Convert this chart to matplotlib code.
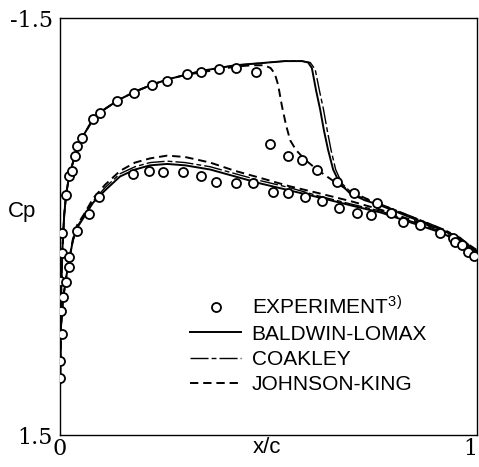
import matplotlib
matplotlib.use('Agg')
import matplotlib.pyplot as plt
from matplotlib.lines import Line2D

# Experiment (upper surface, then lower surface)
exp_x_up = [0.000, 0.000, 0.005, 0.002, 0.007, 0.000, 0.005, 0.005, 0.014, 0.022,
            0.029, 0.036, 0.041, 0.053, 0.079, 0.096, 0.137, 0.177, 0.221, 0.257,
            0.305, 0.338, 0.381, 0.422, 0.470, 0.504, 0.547, 0.580, 0.616, 0.664,
            0.705, 0.760, 0.794, 0.823, 0.863, 0.911, 0.942, 0.978]
exp_cp_up = [1.09, 0.97, 0.77, 0.61, 0.51, 0.39, 0.19, 0.05, -0.23, -0.36,
             -0.40, -0.51, -0.58, -0.64, -0.77, -0.82, -0.90, -0.96, -1.02, -1.05,
             -1.10, -1.11, -1.13, -1.14, -1.11, -0.59, -0.51, -0.48, -0.41, -0.32,
             -0.24, -0.17, -0.10, -0.03, -0.01, 0.05, 0.08, 0.18]
exp_x_lo = [0.014, 0.022, 0.022, 0.041, 0.070, 0.094, 0.175, 0.213, 0.247, 0.295,
            0.338, 0.374, 0.422, 0.463, 0.511, 0.547, 0.588, 0.628, 0.669, 0.712,
            0.746, 0.947, 0.964, 0.993]
exp_cp_lo = [0.40, 0.29, 0.22, 0.03, -0.09, -0.21, -0.38, -0.40, -0.39, -0.39,
             -0.36, -0.32, -0.31, -0.31, -0.25, -0.24, -0.21, -0.18, -0.13, -0.10,
             -0.08, 0.11, 0.13, 0.21]

# Baldwin-Lomax
bl_x_up = [0.0, 0.001, 0.003, 0.006, 0.010, 0.015, 0.022, 0.030, 0.040, 0.055,
           0.075, 0.10, 0.14, 0.18, 0.22, 0.26, 0.30, 0.34, 0.38, 0.42,
           0.46, 0.50, 0.54, 0.58, 0.595, 0.604, 0.614, 0.624, 0.633, 0.643,
           0.655, 0.671, 0.695, 0.73, 0.77, 0.82, 0.87, 0.92, 0.96, 1.0]
bl_cp_up = [1.17, 0.80, 0.45, 0.15, -0.08, -0.24, -0.36, -0.45, -0.55, -0.65,
            -0.75, -0.83, -0.91, -0.97, -1.02, -1.06, -1.09, -1.12, -1.14, -1.16,
            -1.17, -1.18, -1.19, -1.19, -1.18, -1.14, -0.98, -0.84, -0.69, -0.55,
            -0.41, -0.31, -0.24, -0.19, -0.15, -0.09, -0.03, 0.03, 0.09, 0.19]
bl_x_lo = [0.0, 0.002, 0.007, 0.014, 0.022, 0.031, 0.041, 0.06, 0.079, 0.108,
           0.144, 0.18, 0.216, 0.257, 0.30, 0.36, 0.42, 0.48, 0.55, 0.62,
           0.70, 0.77, 0.84, 0.91, 0.96, 1.0]
bl_cp_lo = [1.17, 0.74, 0.53, 0.38, 0.24, 0.10, 0.01, -0.08, -0.17, -0.26,
            -0.36, -0.41, -0.44, -0.45, -0.44, -0.41, -0.36, -0.31, -0.26, -0.21,
            -0.15, -0.10, -0.03, 0.04, 0.11, 0.20]

# Coakley
ck_x_up = [0.0, 0.001, 0.003, 0.006, 0.010, 0.015, 0.022, 0.030, 0.040, 0.055,
           0.075, 0.10, 0.14, 0.18, 0.22, 0.26, 0.30, 0.34, 0.38, 0.42,
           0.46, 0.50, 0.54, 0.58, 0.60, 0.612, 0.622, 0.632, 0.641, 0.650,
           0.661, 0.676, 0.70, 0.73, 0.77, 0.82, 0.87, 0.92, 0.96, 1.0]
ck_cp_up = [1.17, 0.80, 0.45, 0.15, -0.08, -0.24, -0.36, -0.45, -0.55, -0.65,
            -0.75, -0.83, -0.91, -0.97, -1.02, -1.06, -1.09, -1.12, -1.14, -1.16,
            -1.17, -1.18, -1.19, -1.19, -1.18, -1.13, -0.98, -0.84, -0.69, -0.55,
            -0.41, -0.31, -0.24, -0.20, -0.16, -0.10, -0.04, 0.02, 0.08, 0.18]
ck_x_lo = [0.0, 0.002, 0.007, 0.014, 0.022, 0.031, 0.041, 0.06, 0.079, 0.108,
           0.144, 0.18, 0.216, 0.257, 0.30, 0.36, 0.42, 0.48, 0.55, 0.62,
           0.70, 0.77, 0.84, 0.91, 0.96, 1.0]
ck_cp_lo = [1.17, 0.74, 0.53, 0.38, 0.24, 0.10, 0.00, -0.09, -0.18, -0.28,
            -0.38, -0.43, -0.46, -0.47, -0.46, -0.43, -0.38, -0.33, -0.28, -0.22,
            -0.16, -0.11, -0.04, 0.03, 0.10, 0.19]

# Johnson-King
jk_x_up = [0.0, 0.001, 0.003, 0.006, 0.010, 0.015, 0.022, 0.030, 0.040, 0.055,
           0.075, 0.10, 0.14, 0.18, 0.22, 0.26, 0.30, 0.34, 0.38, 0.42,
           0.46, 0.49, 0.505, 0.515, 0.523, 0.532, 0.542, 0.552, 0.566, 0.588,
           0.616, 0.664, 0.705, 0.75, 0.80, 0.85, 0.90, 0.95, 1.0]
jk_cp_up = [1.17, 0.80, 0.45, 0.15, -0.08, -0.24, -0.36, -0.45, -0.55, -0.65,
            -0.75, -0.83, -0.91, -0.97, -1.02, -1.06, -1.09, -1.11, -1.13, -1.15,
            -1.16, -1.16, -1.14, -1.10, -1.02, -0.87, -0.73, -0.62, -0.55, -0.48,
            -0.41, -0.31, -0.24, -0.18, -0.12, -0.06, 0.00, 0.07, 0.17]
jk_x_lo = [0.0, 0.002, 0.007, 0.014, 0.022, 0.031, 0.041, 0.06, 0.079, 0.108,
           0.144, 0.18, 0.216, 0.257, 0.30, 0.36, 0.42, 0.48, 0.55, 0.62,
           0.70, 0.77, 0.84, 0.91, 0.96, 1.0]
jk_cp_lo = [1.17, 0.74, 0.53, 0.38, 0.24, 0.09, -0.01, -0.10, -0.20, -0.30,
            -0.40, -0.46, -0.49, -0.51, -0.50, -0.46, -0.40, -0.35, -0.29, -0.24,
            -0.18, -0.12, -0.05, 0.02, 0.09, 0.18]

labels = [r'EXPERIMENT$^{3)}$', 'BALDWIN-LOMAX', 'COAKLEY', 'JOHNSON-KING']

plt.rcParams['lines.scale_dashes'] = False
plt.rcParams['mathtext.fontset'] = 'custom'
plt.rcParams['mathtext.rm'] = 'Liberation Sans'
plt.rcParams['mathtext.it'] = 'Liberation Sans'

fig = plt.figure(figsize=(4.79, 4.67), dpi=100)
ax = fig.add_axes([60 / 479, 1 - 435 / 467, 417 / 479, 417 / 467])

lw = 1.4
dash_ck = (13, 2.2, 3.5, 2.2)
dash_jk = (6, 3.5)

ax.plot(bl_x_up, bl_cp_up, color='black', lw=lw)
ax.plot(bl_x_lo, bl_cp_lo, color='black', lw=lw)
ax.plot(ck_x_up, ck_cp_up, color='black', lw=1.0, dashes=dash_ck)
ax.plot(ck_x_lo, ck_cp_lo, color='black', lw=1.0, dashes=dash_ck)
ax.plot(jk_x_up, jk_cp_up, color='black', lw=lw, dashes=dash_jk)
ax.plot(jk_x_lo, jk_cp_lo, color='black', lw=lw, dashes=dash_jk)

mk = dict(ls='none', marker='o', ms=6.5, mfc='white', mec='black', mew=1.3, zorder=5)
ax.plot(exp_x_up, exp_cp_up, **mk)
ax.plot(exp_x_lo, exp_cp_lo, **mk)

ax.set_xlim(0, 1)
ax.set_ylim(1.5, -1.5)
ax.set_xticks([0, 1])
ax.set_xticklabels(['0', '1'])
ax.set_yticks([-1.5, 1.5])
ax.set_yticklabels(['-1.5', '1.5'])
ax.tick_params(length=0, labelsize=16, pad=5)
ax.tick_params(axis='x', pad=2)
for lab in ax.get_xticklabels() + ax.get_yticklabels():
    lab.set_family('DejaVu Serif')
ax.get_xticklabels()[1].set_ha('right')
for s in ax.spines.values():
    s.set_linewidth(1.0)

ax.text(0.497, -0.029, 'x/c', transform=ax.transAxes, family='Liberation Sans',
        fontsize=16, ha='center', va='center')
ax.text(-0.091, 0.535, 'Cp', transform=ax.transAxes, family='Liberation Sans',
        fontsize=16, ha='center', va='center')

handles = [
    Line2D([], [], ls='none', marker='o', ms=6.5, mfc='white', mec='black', mew=1.3),
    Line2D([], [], color='black', lw=lw),
    Line2D([], [], color='black', lw=1.0, dashes=dash_ck),
    Line2D([], [], color='black', lw=lw, dashes=dash_jk),
]
leg = ax.legend(handles, labels, loc='upper left', bbox_to_anchor=(0.312, 0.335),
                frameon=False, handlelength=2.45, handletextpad=0.5,
                labelspacing=0.3, borderpad=0, borderaxespad=0,
                prop={'family': 'Liberation Sans', 'size': 15})

fig.savefig('out.png', dpi=100, facecolor='white')
